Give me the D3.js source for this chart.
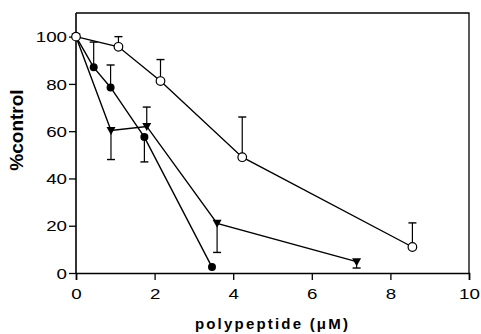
<!DOCTYPE html>
<html>
<head>
<meta charset="utf-8">
<script src="https://cdn.jsdelivr.net/npm/d3@7"></script>
<style>
  body { margin: 0; background: #fff; }
  svg text { font-family: Arial, "Liberation Sans", sans-serif; fill: #000; }
</style>
</head>
<body>
<div id="chart"></div>
<script>
// open circles
var openX   = [0, 1.08, 2.15, 4.23, 8.56];
var openY   = [100, 95.7, 81.2, 49, 11];
var openErr = [100, 100, 90.3, 66, 21.2];
// filled circles
var fillX   = [0, 0.45, 0.88, 1.74, 3.46];
var fillY   = [100, 87, 78.5, 57.5, 2.5];
var fillErr = [100, 97.7, 88, 47, 2.5];
// filled down-triangles
var triX    = [0, 0.89, 1.8, 3.59, 7.14];
var triY    = [100, 60.3, 62, 21, 4.8];
var triErr  = [100, 48, 70.2, 8.7, 2.1];

var xTicks = [0, 2, 4, 6, 8, 10];
var yTicks = [0, 20, 40, 60, 80, 100];

var margin = {top: 13, right: 12, bottom: 61, left: 76},
    width = 481 - margin.left - margin.right,
    height = 334 - margin.top - margin.bottom;

var svg = d3.select("#chart")
  .append("svg")
    .attr("width", 481)
    .attr("height", 334)
  .append("g")
    .attr("transform", "translate(" + margin.left + "," + margin.top + ")");

var x = d3.scaleLinear().domain([0, 10]).range([0, width]);
var y = d3.scaleLinear().domain([0, 110]).range([height, 0]);

// frame top / right
svg.append("path")
  .attr("d", "M0," + y(110) + "H" + x(10) + "V" + y(0))
  .attr("fill", "none")
  .attr("stroke", "#000")
  .attr("stroke-width", 1.3);

// tick labels are wide in the original, stretch them a bit
var stretch = 1.25;

svg.append("g")
  .attr("transform", "translate(0," + height + ")")
  .call(d3.axisBottom(x).tickValues(xTicks).tickSize(7).tickPadding(8))
  .call(g => g.select(".domain").attr("stroke-width", 1.6))
  .call(g => g.selectAll(".tick line").attr("stroke-width", 1.3))
  .call(g => g.selectAll("text").style("font-size", "15px")
      .attr("transform", "scale(" + stretch + ",1)"));

svg.append("g")
  .call(d3.axisLeft(y).tickValues(yTicks).tickSize(7).tickPadding(2))
  .call(g => g.select(".domain").attr("d", "M0," + y(110) + "V" + height).attr("stroke-width", 1.6))
  .call(g => g.selectAll(".tick line").attr("stroke-width", 1.3))
  .call(g => g.selectAll("text").style("font-size", "15px").attr("dy", "0.35em")
      .attr("x", -9 / stretch)
      .attr("transform", "scale(" + stretch + ",1)"));

// axis titles
svg.append("text")
  .attr("x", width / 2)
  .attr("y", height + 56)
  .attr("text-anchor", "middle")
  .style("font-size", "15px")
  .style("font-weight", "bold")
  .style("letter-spacing", "2.2px")
  .text("polypeptide (\u03bcM)");

svg.append("text")
  .attr("transform", "translate(" + (-53) + "," + y(60.5) + ") rotate(-90)")
  .attr("text-anchor", "middle")
  .style("font-size", "19px")
  .style("font-weight", "bold")
  .text("%control");

function series(xs, ys, errs) {
  return xs.map(function(d, i) { return {x: d, y: ys[i], e: errs[i]}; });
}
var openData = series(openX, openY, openErr),
    fillData = series(fillX, fillY, fillErr),
    triData  = series(triX, triY, triErr);

var line = d3.line().x(d => x(d.x)).y(d => y(d.y));

[fillData, triData, openData].forEach(function(data) {
  // error bars
  var eb = svg.append("g").selectAll("g")
    .data(data.filter(d => d.e !== d.y))
    .enter().append("g");
  eb.append("line")
    .attr("x1", d => x(d.x)).attr("x2", d => x(d.x))
    .attr("y1", d => y(d.y)).attr("y2", d => y(d.e))
    .attr("stroke", "#000").attr("stroke-width", 1.2);
  eb.append("line")
    .attr("x1", d => x(d.x) - 4).attr("x2", d => x(d.x) + 4)
    .attr("y1", d => y(d.e)).attr("y2", d => y(d.e))
    .attr("stroke", "#000").attr("stroke-width", 1.4);

  svg.append("path")
    .datum(data)
    .attr("fill", "none")
    .attr("stroke", "#000")
    .attr("stroke-width", 1.4)
    .attr("d", line);
});

svg.append("g").selectAll("circle")
  .data(fillData)
  .enter().append("circle")
    .attr("cx", d => x(d.x)).attr("cy", d => y(d.y))
    .attr("r", 4).attr("fill", "#000");

svg.append("g").selectAll("path")
  .data(triData)
  .enter().append("path")
    .attr("transform", d => "translate(" + x(d.x) + "," + y(d.y) + ")")
    .attr("d", "M-4.5,-3.5L4.5,-3.5L0,4.5Z")
    .attr("fill", "#000");

svg.append("g").selectAll("circle")
  .data(openData)
  .enter().append("circle")
    .attr("cx", d => x(d.x)).attr("cy", d => y(d.y))
    .attr("r", 4.3).attr("fill", "#fff")
    .attr("stroke", "#000").attr("stroke-width", 1.2);
</script>
</body>
</html>
